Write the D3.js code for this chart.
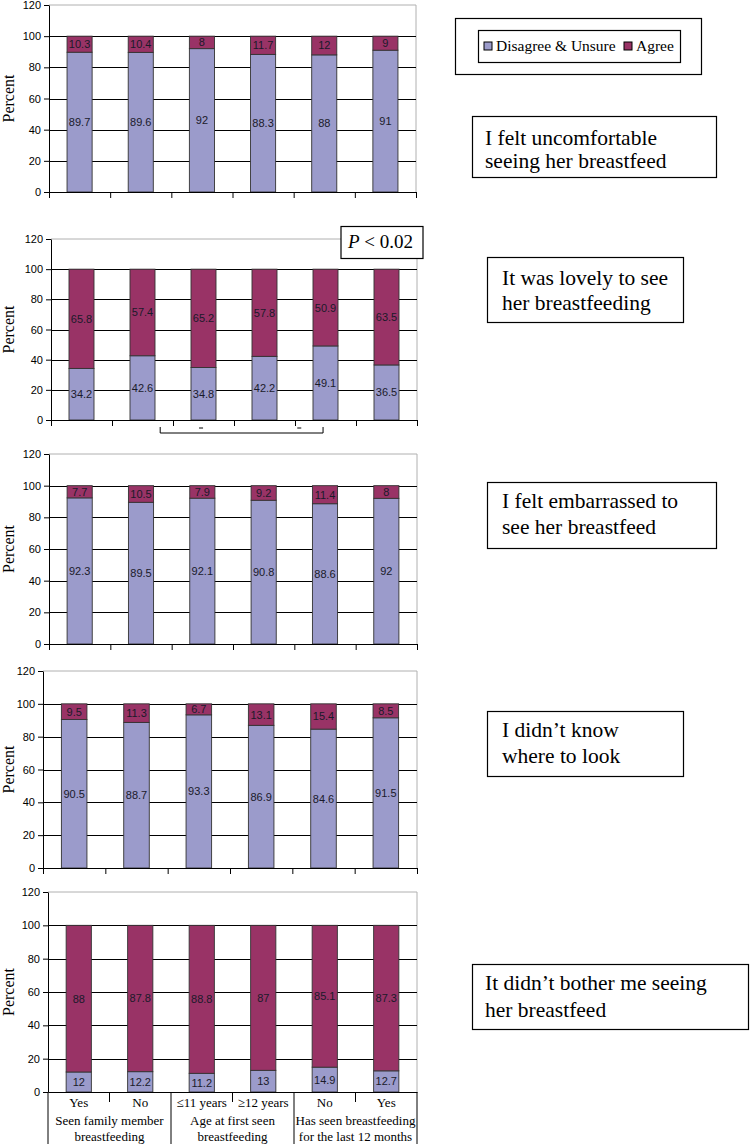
<!DOCTYPE html>
<head>
<meta charset="utf-8">
<style>
body { margin: 0; background: #fff; }
svg { font-family: "Liberation Sans", Arial, sans-serif; }
</style>
<script src="https://d3js.org/d3.v7.min.js"></script>
</head>
<body>
<svg id="chart" width="751" height="1144"></svg>
<script>

// category labels along the bottom, and the groups they belong to
var categories = ["Yes", "No", "\u226411 years", "\u226512 years", "No", "Yes"];
var groups = [
    ["Seen family member", "breastfeeding"],
    ["Age at first seen", "breastfeeding"],
    ["Has seen breastfeeding", "for the last 12 months"]
];
var seriesNames = ["Disagree & Unsure", "Agree"];
var yTicks = [0, 20, 40, 60, 80, 100, 120];

// one statement per panel
var statements = [
    ["I felt uncomfortable", "seeing her breastfeed"],
    ["It was lovely to see", "her breastfeeding"],
    ["I felt embarrassed to", "see her breastfeed"],
    ["I didn\u2019t know", "where to look"],
    ["It didn\u2019t bother me seeing", "her breastfeed"]
];

// percent disagree & unsure, per panel
var disagree = [
    [89.7, 89.6, 92, 88.3, 88, 91],
    [34.2, 42.6, 34.8, 42.2, 49.1, 36.5],
    [92.3, 89.5, 92.1, 90.8, 88.6, 92],
    [90.5, 88.7, 93.3, 86.9, 84.6, 91.5],
    [12, 12.2, 11.2, 13, 14.9, 12.7]
];
// percent agree, per panel
var agree = [
    [10.3, 10.4, 8, 11.7, 12, 9],
    [65.8, 57.4, 65.2, 57.8, 50.9, 63.5],
    [7.7, 10.5, 7.9, 9.2, 11.4, 8],
    [9.5, 11.3, 6.7, 13.1, 15.4, 8.5],
    [88, 87.8, 88.8, 87, 85.1, 87.3]
];

var colors = ["#9b9bcb", "#993366"];
var serif = "\"Liberation Serif\", \"Times New Roman\", serif";

// where each plot sits on the page
var panels = [
    {left: 49, right: 416, top: 5,   bottom: 192},
    {left: 51, right: 417, top: 239, bottom: 420},
    {left: 49, right: 417, top: 454, bottom: 644},
    {left: 43, right: 417, top: 671, bottom: 868},
    {left: 48, right: 417, top: 892, bottom: 1092}
];
// statement boxes on the right
var notes = [
    {x: 472, y: 116, w: 244, h: 61, tx: 485, b: 145, lh: 22.5},
    {x: 487, y: 257, w: 196, h: 65, tx: 502, b: 285, lh: 25},
    {x: 487, y: 482, w: 229, h: 66, tx: 502, b: 508, lh: 25.5},
    {x: 487, y: 711, w: 196, h: 65, tx: 502, b: 737, lh: 26},
    {x: 472, y: 964, w: 276, h: 65, tx: 485, b: 990, lh: 26.5}
];

var svg = d3.select("#chart");

panels.forEach(function(p, i) {
    var g = svg.append("g");

    var y = d3.scaleLinear().domain([0, 120]).range([p.bottom, p.top]);
    var x = d3.scaleBand()
        .domain(d3.range(categories.length))
        .range([p.left, p.right])
        .paddingInner(0.59)
        .paddingOuter(0.295);
    var xEdge = d3.scaleLinear().domain([0, categories.length]).range([p.left, p.right]);

    // plot border (top + right) in grey
    g.append("path")
        .attr("d", "M" + p.left + "," + y(120) + "H" + p.right + "V" + y(0))
        .attr("fill", "none")
        .attr("stroke", "#b0b0b0");

    // gridlines
    g.selectAll(".grid")
        .data(yTicks.filter(function(t) { return t > 0 && t < 120; }))
        .enter().append("line")
        .attr("x1", p.left).attr("x2", p.right)
        .attr("y1", function(d) { return Math.round(y(d)) + 0.5; })
        .attr("y2", function(d) { return Math.round(y(d)) + 0.5; })
        .attr("stroke", "#000");

    // y axis
    var yAxis = g.append("g")
        .attr("transform", "translate(" + p.left + ",0)")
        .call(d3.axisLeft(y).tickValues(yTicks).tickSize(5).tickSizeOuter(0).tickPadding(3));
    yAxis.selectAll("text").attr("font-size", 11).attr("fill", "#000")
        .attr("font-family", "\"Liberation Sans\", Arial, sans-serif");
    yAxis.selectAll("line, path").attr("stroke", "#000");

    g.append("text")
        .attr("font-family", serif)
        .attr("font-size", 16)
        .attr("text-anchor", "middle")
        .attr("transform", "translate(14," + (p.top + p.bottom) / 2 + ") rotate(-90)")
        .text("Percent");

    // stacked bars
    var rows = categories.map(function(c, j) {
        return [
            {s: 0, y0: 0, y1: disagree[i][j], v: disagree[i][j], j: j},
            {s: 1, y0: disagree[i][j], y1: disagree[i][j] + agree[i][j], v: agree[i][j], j: j}
        ];
    });
    var segs = [].concat.apply([], rows);

    g.selectAll(".seg")
        .data(segs)
        .enter().append("rect")
        .attr("x", function(d) { return x(d.j); })
        .attr("width", x.bandwidth())
        .attr("y", function(d) { return y(d.y1); })
        .attr("height", function(d) { return y(d.y0) - y(d.y1); })
        .attr("fill", function(d) { return colors[d.s]; })
        .attr("stroke", "#333")
        .attr("stroke-width", 0.9);

    g.selectAll(".lbl")
        .data(segs)
        .enter().append("text")
        .attr("x", function(d) { return x(d.j) + x.bandwidth() / 2; })
        .attr("y", function(d) { return y((d.y0 + d.y1) / 2); })
        .attr("dy", "0.36em")
        .attr("text-anchor", "middle")
        .attr("font-size", 11)
        .attr("fill", "#1a1a2a")
        .text(function(d) { return d.v; });

    // x axis line and category ticks
    var last = i === panels.length - 1;
    var xAxis = g.append("g")
        .attr("transform", "translate(0," + p.bottom + ")")
        .call(d3.axisBottom(xEdge).tickValues(d3.range(categories.length + 1))
            .tickSize(last ? 0 : 6).tickSizeOuter(0).tickFormat(""));
    xAxis.selectAll("line, path").attr("stroke", "#000");

    if (last) {
        // category table under the last panel
        g.selectAll(".sep")
            .data(d3.range(categories.length + 1))
            .enter().append("line")
            .attr("x1", function(d) { return xEdge(d); })
            .attr("x2", function(d) { return xEdge(d); })
            .attr("y1", p.bottom)
            .attr("y2", function(d) { return d % 2 === 0 ? 1144 : p.bottom + 10; })
            .attr("stroke", "#000");

        g.selectAll(".cat")
            .data(categories)
            .enter().append("text")
            .attr("font-family", serif)
            .attr("font-size", 13)
            .attr("text-anchor", "middle")
            .attr("x", function(d, j) { return xEdge(j + 0.5); })
            .attr("y", p.bottom + 15)
            .text(function(d) { return d; });

        groups.forEach(function(lines, k) {
            g.append("text")
                .attr("font-family", serif)
                .attr("font-size", 13)
                .attr("text-anchor", "middle")
                .selectAll("tspan")
                .data(lines)
                .enter().append("tspan")
                .attr("x", xEdge(k * 2 + 1))
                .attr("y", function(d, m) { return p.bottom + 33 + m * 16; })
                .text(function(d) { return d; });
        });
    }

    // statement box
    var n = notes[i];
    svg.append("rect")
        .attr("x", n.x + 0.5).attr("y", n.y + 0.5)
        .attr("width", n.w).attr("height", n.h)
        .attr("fill", "#fff").attr("stroke", "#000").attr("stroke-width", 1.2);
    svg.append("text")
        .attr("font-family", serif)
        .attr("font-size", 21.5)
        .selectAll("tspan")
        .data(statements[i])
        .enter().append("tspan")
        .attr("x", n.tx)
        .attr("y", function(d, m) { return n.b + m * n.lh; })
        .text(function(d) { return d; });

    if (i === 1) {
        // significance marker
        svg.append("rect")
            .attr("x", 341).attr("y", 226.5).attr("width", 82).attr("height", 32)
            .attr("fill", "#fff").attr("stroke", "#000").attr("stroke-width", 1.2);
        var pt = svg.append("text")
            .attr("font-family", serif).attr("font-size", 19)
            .attr("x", 348).attr("y", 248);
        pt.append("tspan").attr("font-style", "italic").text("P");
        pt.append("tspan").text(" < 0.02");

        var by = p.bottom + 13;
        svg.append("path")
            .attr("d", "M" + xEdge(1.79) + "," + (by - 6) + "V" + by + "H" + xEdge(4.46) + "V" + (by - 6))
            .attr("fill", "none").attr("stroke", "#000");
        svg.selectAll(".dash")
            .data([2.46, 4.07])
            .enter().append("line")
            .attr("x1", function(d) { return xEdge(d) - 2; })
            .attr("x2", function(d) { return xEdge(d) + 2; })
            .attr("y1", by - 5).attr("y2", by - 5)
            .attr("stroke", "#000");
    }
});

// legend
svg.append("rect")
    .attr("x", 455.5).attr("y", 18.5).attr("width", 246).attr("height", 56)
    .attr("fill", "#fff").attr("stroke", "#000").attr("stroke-width", 1.2);
svg.append("rect")
    .attr("x", 478.5).attr("y", 30.5).attr("width", 202).attr("height", 32)
    .attr("fill", "#fff").attr("stroke", "#000").attr("stroke-width", 1.2);

var legendX = [484, 624];
var legendItem = svg.selectAll(".leg")
    .data(seriesNames)
    .enter().append("g")
    .attr("transform", function(d, k) { return "translate(" + legendX[k] + ",42)"; });
legendItem.append("rect")
    .attr("width", 8).attr("height", 8)
    .attr("fill", function(d, k) { return colors[k]; })
    .attr("stroke", "#000");
legendItem.append("text")
    .attr("font-family", serif)
    .attr("font-size", 15.5)
    .attr("x", 12).attr("y", 8.5)
    .text(function(d) { return d; });

</script>
</body>
</html>
